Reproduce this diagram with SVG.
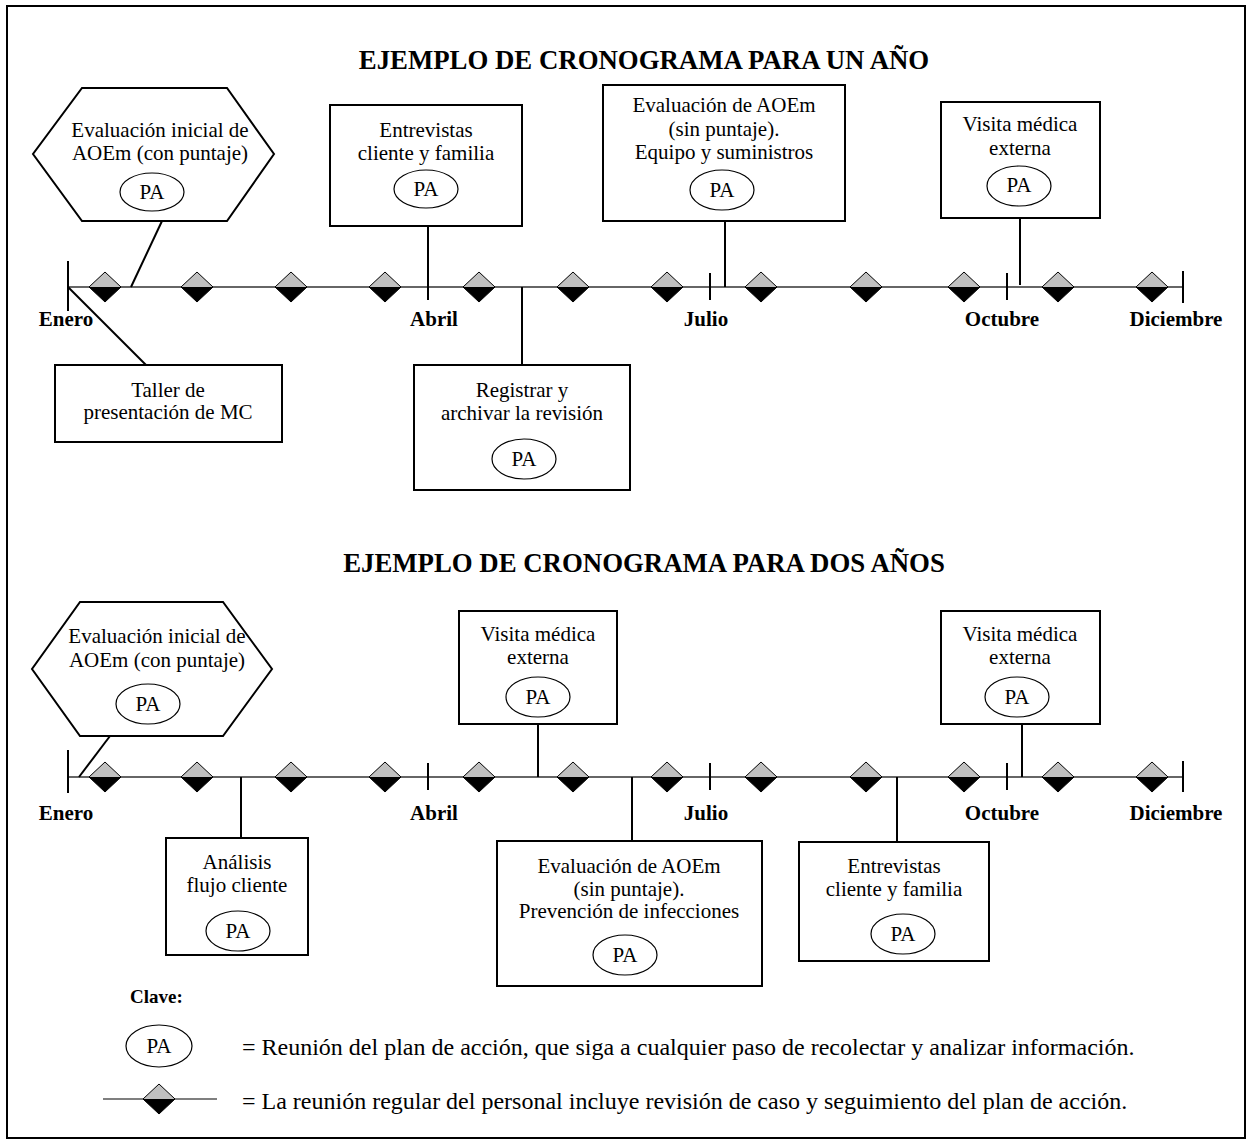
<svg xmlns="http://www.w3.org/2000/svg" xmlns:xlink="http://www.w3.org/1999/xlink" width="1252" height="1145" viewBox="0 0 1252 1145">
<style>
.box{fill:#fff;stroke:#000;stroke-width:2}
.pa{fill:#fff;stroke:#000;stroke-width:1.2}
.t{font-family:"Liberation Serif","Times New Roman",serif;font-size:21px;text-anchor:middle;fill:#000}
.m{font-family:"Liberation Serif","Times New Roman",serif;font-size:21px;font-weight:bold;text-anchor:middle;fill:#000}
.ti{font-family:"Liberation Serif","Times New Roman",serif;font-size:26.8px;font-weight:bold;text-anchor:middle;fill:#000}
.lg{font-family:"Liberation Serif","Times New Roman",serif;font-size:24px;fill:#000}
.conn{stroke:#000;stroke-width:2;fill:none}
.tick{stroke:#000;stroke-width:2}
.axis{stroke:#333;stroke-width:1.5}
</style>
<defs>
<g id="dia">
<polygon points="-16,0 0,-15 16,0" fill="#c0c0c0"/>
<polygon points="-16,0 0,15 16,0" fill="#000"/>
<polygon points="0,-15 16,0 0,15 -16,0" fill="none" stroke="#000" stroke-width="1"/>
</g>
</defs>
<rect x="7" y="6" width="1238" height="1132" fill="#fff" stroke="#000" stroke-width="2"/>

<text class="ti" x="644" y="69">EJEMPLO DE CRONOGRAMA PARA UN AÑO</text>
<text class="ti" x="644" y="572">EJEMPLO DE CRONOGRAMA PARA DOS AÑOS</text>

<g id="connectors">
<line class="axis" x1="68" y1="287" x2="1183" y2="287"/>
<line class="tick" x1="68" y1="261" x2="68" y2="311"/>
<line class="tick" x1="710" y1="273" x2="710" y2="300"/>
<line class="tick" x1="1007" y1="273" x2="1007" y2="300"/>
<line class="tick" x1="1183" y1="271" x2="1183" y2="303"/>
<line class="conn" x1="162" y1="221" x2="131" y2="287"/>
<line class="conn" x1="428" y1="226" x2="428" y2="300"/>
<line class="conn" x1="725" y1="221" x2="725" y2="287"/>
<line class="conn" x1="1020" y1="218" x2="1020" y2="285"/>
<line class="conn" x1="522" y1="287" x2="522" y2="365"/>
<line class="conn" x1="68" y1="287" x2="146" y2="365"/>
<line class="axis" x1="68" y1="777" x2="1183" y2="777"/>
<line class="tick" x1="68" y1="750" x2="68" y2="793"/>
<line class="tick" x1="428" y1="763" x2="428" y2="790"/>
<line class="tick" x1="710" y1="763" x2="710" y2="790"/>
<line class="tick" x1="1007" y1="763" x2="1007" y2="790"/>
<line class="tick" x1="1183" y1="761" x2="1183" y2="792"/>
<line class="conn" x1="110" y1="736" x2="79" y2="777"/>
<line class="conn" x1="538" y1="724" x2="538" y2="777"/>
<line class="conn" x1="1022" y1="724" x2="1022" y2="777"/>
<line class="conn" x1="241" y1="777" x2="241" y2="838"/>
<line class="conn" x1="632" y1="777" x2="632" y2="841"/>
<line class="conn" x1="897" y1="777" x2="897" y2="842"/>
</g>

<g id="meetings1">
<use xlink:href="#dia" x="105" y="287"/><use xlink:href="#dia" x="197" y="287"/>
<use xlink:href="#dia" x="291" y="287"/><use xlink:href="#dia" x="385" y="287"/>
<use xlink:href="#dia" x="479" y="287"/><use xlink:href="#dia" x="573" y="287"/>
<use xlink:href="#dia" x="667" y="287"/><use xlink:href="#dia" x="761" y="287"/>
<use xlink:href="#dia" x="866" y="287"/><use xlink:href="#dia" x="964" y="287"/>
<use xlink:href="#dia" x="1058" y="287"/><use xlink:href="#dia" x="1152" y="287"/>
</g>
<g id="meetings2">
<use xlink:href="#dia" x="105" y="777"/><use xlink:href="#dia" x="197" y="777"/>
<use xlink:href="#dia" x="291" y="777"/><use xlink:href="#dia" x="385" y="777"/>
<use xlink:href="#dia" x="479" y="777"/><use xlink:href="#dia" x="573" y="777"/>
<use xlink:href="#dia" x="667" y="777"/><use xlink:href="#dia" x="761" y="777"/>
<use xlink:href="#dia" x="866" y="777"/><use xlink:href="#dia" x="964" y="777"/>
<use xlink:href="#dia" x="1058" y="777"/><use xlink:href="#dia" x="1152" y="777"/>
</g>

<g id="months1">
<text class="m" x="66" y="326">Enero</text>
<text class="m" x="434" y="326">Abril</text>
<text class="m" x="706" y="326">Julio</text>
<text class="m" x="1002" y="326">Octubre</text>
<text class="m" x="1176" y="326">Diciembre</text>
</g>
<g id="months2">
<text class="m" x="66" y="820">Enero</text>
<text class="m" x="434" y="820">Abril</text>
<text class="m" x="706" y="820">Julio</text>
<text class="m" x="1002" y="820">Octubre</text>
<text class="m" x="1176" y="820">Diciembre</text>
</g>

<g id="n-eval-inicial-1">
<polygon class="box" points="82,88 227,88 274,154 227,221 82,221 33,154"/>
<text class="t" x="160" y="137">Evaluación inicial de</text>
<text class="t" x="160" y="160">AOEm (con puntaje)</text>
<ellipse class="pa" cx="152" cy="192" rx="32" ry="19"/>
<text class="t" x="152" y="199">PA</text>
</g>
<g id="n-entrevistas-1">
<rect class="box" x="330" y="105" width="192" height="121"/>
<text class="t" x="426" y="137">Entrevistas</text>
<text class="t" x="426" y="160">cliente y familia</text>
<ellipse class="pa" cx="426" cy="189" rx="32" ry="19"/>
<text class="t" x="426" y="196">PA</text>
</g>
<g id="n-eval-equipo">
<rect class="box" x="603" y="85" width="242" height="136"/>
<text class="t" x="724" y="112">Evaluación de AOEm</text>
<text class="t" x="724" y="136">(sin puntaje).</text>
<text class="t" x="724" y="159">Equipo y suministros</text>
<ellipse class="pa" cx="722" cy="190" rx="32" ry="20"/>
<text class="t" x="722" y="197">PA</text>
</g>
<g id="n-visita-1">
<rect class="box" x="941" y="102" width="159" height="116"/>
<text class="t" x="1020" y="131">Visita médica</text>
<text class="t" x="1020" y="155">externa</text>
<ellipse class="pa" cx="1019" cy="186" rx="32" ry="20"/>
<text class="t" x="1019" y="192">PA</text>
</g>
<g id="n-taller">
<rect class="box" x="55" y="365" width="227" height="77"/>
<text class="t" x="168" y="397">Taller de</text>
<text class="t" x="168" y="419">presentación de MC</text>
</g>
<g id="n-registrar">
<rect class="box" x="414" y="365" width="216" height="125"/>
<text class="t" x="522" y="397">Registrar y</text>
<text class="t" x="522" y="420">archivar la revisión</text>
<ellipse class="pa" cx="524" cy="459" rx="32" ry="20"/>
<text class="t" x="524" y="466">PA</text>
</g>

<g id="n-eval-inicial-2">
<polygon class="box" points="80,602 223,602 272,669 223,736 80,736 32,669"/>
<text class="t" x="157" y="643">Evaluación inicial de</text>
<text class="t" x="157" y="667">AOEm (con puntaje)</text>
<ellipse class="pa" cx="148" cy="704" rx="32" ry="20"/>
<text class="t" x="148" y="711">PA</text>
</g>
<g id="n-visita-2a">
<rect class="box" x="459" y="611" width="158" height="113"/>
<text class="t" x="538" y="641">Visita médica</text>
<text class="t" x="538" y="664">externa</text>
<ellipse class="pa" cx="538" cy="697" rx="32" ry="20"/>
<text class="t" x="538" y="704">PA</text>
</g>
<g id="n-visita-2b">
<rect class="box" x="941" y="611" width="159" height="113"/>
<text class="t" x="1020" y="641">Visita médica</text>
<text class="t" x="1020" y="664">externa</text>
<ellipse class="pa" cx="1017" cy="697" rx="32" ry="20"/>
<text class="t" x="1017" y="704">PA</text>
</g>
<g id="n-analisis">
<rect class="box" x="166" y="838" width="142" height="117"/>
<text class="t" x="237" y="869">Análisis</text>
<text class="t" x="237" y="892">flujo cliente</text>
<ellipse class="pa" cx="238" cy="931" rx="32" ry="20"/>
<text class="t" x="238" y="938">PA</text>
</g>
<g id="n-eval-prevencion">
<rect class="box" x="497" y="841" width="265" height="145"/>
<text class="t" x="629" y="873">Evaluación de AOEm</text>
<text class="t" x="629" y="896">(sin puntaje).</text>
<text class="t" x="629" y="918">Prevención de infecciones</text>
<ellipse class="pa" cx="625" cy="955" rx="32" ry="20"/>
<text class="t" x="625" y="962">PA</text>
</g>
<g id="n-entrevistas-2">
<rect class="box" x="799" y="842" width="190" height="119"/>
<text class="t" x="894" y="873">Entrevistas</text>
<text class="t" x="894" y="896">cliente y familia</text>
<ellipse class="pa" cx="903" cy="934" rx="32" ry="20"/>
<text class="t" x="903" y="941">PA</text>
</g>

<g id="legend">
<text x="130" y="1003" style="font-family:'Liberation Serif','Times New Roman',serif;font-size:19px;font-weight:bold">Clave:</text>
<ellipse class="pa" cx="159" cy="1046" rx="33" ry="21"/>
<text class="t" x="159" y="1053">PA</text>
<text class="lg" x="242" y="1055">= Reunión del plan de acción, que siga a cualquier paso de recolectar y analizar información.</text>
<line x1="103" y1="1099" x2="217" y2="1099" stroke="#555" stroke-width="1.5"/>
<use xlink:href="#dia" x="159" y="1099"/>
<text class="lg" x="242" y="1109">= La reunión regular del personal incluye revisión de caso y seguimiento del plan de acción.</text>
</g>
</svg>
